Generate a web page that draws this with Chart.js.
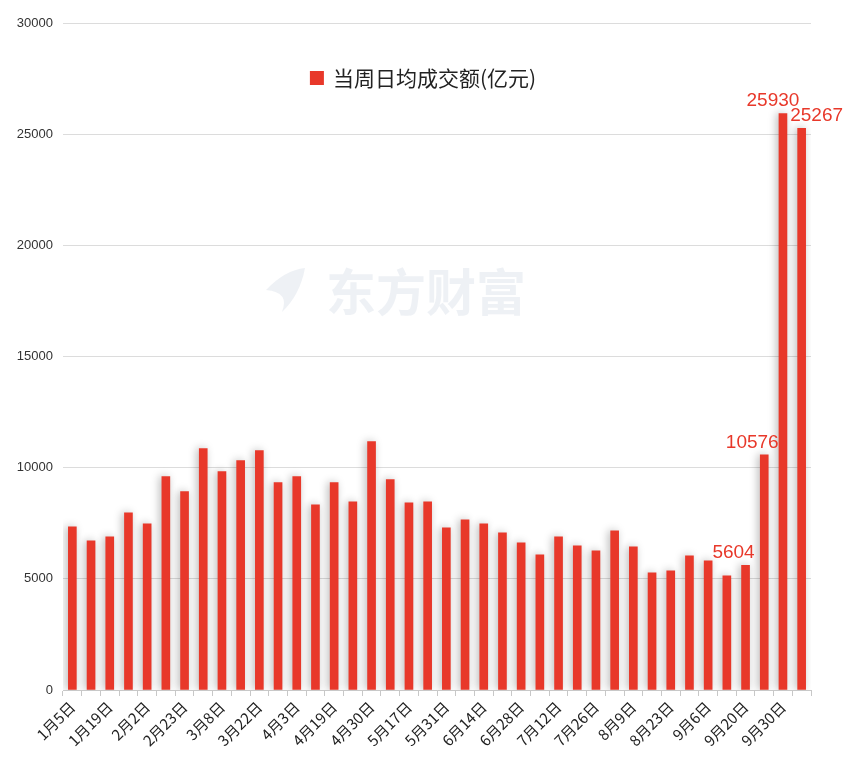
<!DOCTYPE html>
<html>
<head>
<meta charset="utf-8">
<script src="https://cdn.jsdelivr.net/npm/chart.js@4"></script>
<style>
  html, body { margin: 0; padding: 0; background: #fff; }
  #wrap { width: 851px; height: 761px; }
</style>
</head>
<body>
<div id="wrap"><canvas id="turnoverChart"></canvas></div>
<script>
// 周度日均成交额
const weeks = ['1月5日', '1月12日', '1月19日', '1月26日', '2月2日', '2月8日', '2月23日', '3月1日', '3月8日', '3月15日',
    '3月22日', '3月29日', '4月3日', '4月12日', '4月19日', '4月26日', '4月30日', '5月10日', '5月17日', '5月24日',
    '5月31日', '6月7日', '6月14日', '6月21日', '6月28日', '7月5日', '7月12日', '7月19日', '7月26日', '8月2日',
    '8月9日', '8月16日', '8月23日', '8月30日', '9月6日', '9月13日', '9月20日', '9月27日', '9月30日', '10月11日'];
const turnover = [7342, 6712, 6892, 7973, 7477, 9595, 8919, 10856, 9820, 10315,
    10766, 9324, 9595, 8333, 9324, 8468, 11171, 9459, 8423, 8468,
    7297, 7658, 7477, 7072, 6622, 6081, 6892, 6486, 6261, 7162,
    6441, 5270, 5360, 6036, 5811, 5135, 5604, 10576, 25930, 25267];
const labeledIdx = [36, 37, 38, 39];
const labelShift = { 36: -12, 37: -12, 38: -10, 39: 15 };
const yTicks = [0, 5000, 10000, 15000, 20000, 25000, 30000];
const seriesName = '当周日均成交额(亿元)';

const RED = '#e8382a';

window.addEventListener('load', function() {
    const ctx = document.getElementById('turnoverChart').getContext('2d');

    const watermark = {
        id: 'watermark',
        beforeDatasetsDraw(chart) {
            const c = chart.ctx;
            c.save();
            c.fillStyle = 'rgba(226, 232, 238, 0.6)';
            c.font = 'bold 50px "Noto Sans CJK SC"';
            c.textBaseline = 'middle';
            c.fillText('东方财富', 326, 292);
            // 简单的logo
            c.beginPath();
            c.moveTo(266, 290);
            c.quadraticCurveTo(285, 270, 305, 268);
            c.quadraticCurveTo(300, 295, 282, 312);
            c.quadraticCurveTo(290, 292, 266, 290);
            c.fill();
            c.restore();
        }
    };

    const barShadow = {
        id: 'barShadow',
        beforeDatasetDraw(chart) {
            const c = chart.ctx;
            c.save();
            c.shadowColor = 'rgba(0, 0, 0, 0.28)';
            c.shadowBlur = 8;
            c.shadowOffsetX = -2;
        },
        afterDatasetDraw(chart) {
            chart.ctx.restore();
        }
    };

    const topLegend = {
        id: 'topLegend',
        afterDraw(chart) {
            const c = chart.ctx;
            c.save();
            c.font = '21px "Noto Sans CJK SC"';
            const w = c.measureText(seriesName).width;
            const total = 14 + 9 + w;
            const x0 = (chart.chartArea.left + chart.chartArea.right) / 2 - 14 - total / 2;
            const yc = 78;
            c.fillStyle = RED;
            c.fillRect(x0, yc - 7, 14, 14);
            c.fillStyle = '#222';
            c.textBaseline = 'middle';
            c.fillText(seriesName, x0 + 23, yc);
            c.restore();
        }
    };

    const valueLabels = {
        id: 'valueLabels',
        afterDatasetsDraw(chart) {
            const c = chart.ctx;
            const meta = chart.getDatasetMeta(0);
            c.save();
            c.font = '19px "Liberation Sans", Arial';
            c.fillStyle = RED;
            c.textAlign = 'center';
            c.textBaseline = 'alphabetic';
            labeledIdx.forEach(function(i) {
                const bar = meta.data[i];
                c.fillText(String(turnover[i]), bar.x + (labelShift[i] || 0), bar.y - 7);
            });
            c.restore();
        }
    };

    new Chart(ctx, {
        type: 'bar',
        data: {
            labels: weeks,
            datasets: [{
                label: seriesName,
                data: turnover,
                backgroundColor: RED,
                barThickness: 8
            }]
        },
        options: {
            responsive: true,
            maintainAspectRatio: false,
            animation: false,
            layout: { padding: { top: 23, right: 40, left: 0, bottom: 0 } },
            plugins: {
                legend: { display: false },
                tooltip: { enabled: false }
            },
            scales: {
                x: {
                    grid: {
                        display: true,
                        drawOnChartArea: false,
                        drawTicks: true,
                        tickLength: 6,
                        color: '#c8c8c8'
                    },
                    border: { display: true, color: '#c8c8c8' },
                    afterFit: function(axis) { axis.height = 71; },
                    ticks: {
                        autoSkip: false,
                        maxRotation: 45,
                        minRotation: 45,
                        color: '#222',
                        font: { family: '"Noto Sans CJK SC"', size: 15 },
                        padding: 2,
                        callback: function(value, index) {
                            return index % 2 === 0 ? weeks[index] : '';
                        }
                    }
                },
                y: {
                    min: 0,
                    max: 30000,
                    afterBuildTicks: function(axis) {
                        axis.ticks = yTicks.map(function(v) { return { value: v }; });
                    },
                    afterFit: function(axis) { axis.width = 63; },
                    grid: {
                        color: '#dcdcdc',
                        drawTicks: false
                    },
                    border: { display: false },
                    ticks: {
                        color: '#333',
                        padding: 10,
                        font: { family: '"Liberation Sans", Arial', size: 13 },
                        callback: function(value) { return String(value); }
                    }
                }
            }
        },
        plugins: [watermark, barShadow, valueLabels, topLegend]
    });
});
</script>
</body>
</html>
